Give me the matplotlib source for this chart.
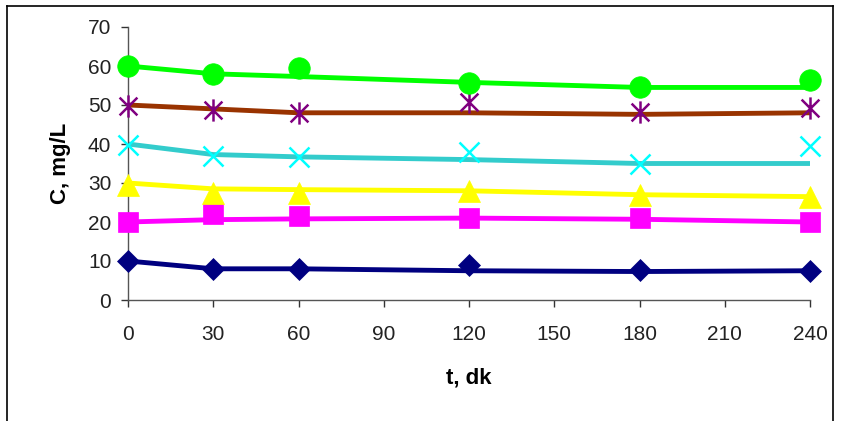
import matplotlib
matplotlib.use("Agg")
import matplotlib.pyplot as plt
from matplotlib.lines import Line2D
from matplotlib.path import Path

t = [0, 30, 60, 120, 180, 240]

# measured points
blue_pts = [10, 8, 8, 9, 7.6, 7.5]
mag_pts = [20, 22, 21.5, 21, 21, 20]
yel_pts = [29.5, 27.5, 27.5, 28, 27, 26.5]
cyan_pts = [39.7, 36.9, 36.7, 38, 34.9, 39.5]
purp_pts = [49.8, 48.7, 48, 50.8, 48.3, 49.2]
green_pts = [60, 58, 59.5, 55.7, 54.6, 56.4]

# fitted line values
blue_fit = [10, 8, 8, 7.5, 7.3, 7.5]
mag_fit = [20, 20.6, 20.8, 21, 20.7, 20]
yel_fit = [30, 28.5, 28.3, 28, 27, 26.5]
cyan_fit = [40, 37.3, 36.7, 36, 35, 35]
brown_fit = [50, 49, 48, 48, 47.6, 48]
green_fit = [60, 58, 57.3, 55.8, 54.5, 54.5]

xticks = [0, 30, 60, 90, 120, 150, 180, 210, 240]
yticks = [0, 10, 20, 30, 40, 50, 60, 70]

plt.rcParams['font.family'] = ['Liberation Sans', 'DejaVu Sans']

# Excel-style star marker: vertical bar plus an X
star = Path([(0, -1), (0, 1), (-0.8, -0.8), (0.8, 0.8), (-0.8, 0.8), (0.8, -0.8)],
            [Path.MOVETO, Path.LINETO, Path.MOVETO, Path.LINETO, Path.MOVETO, Path.LINETO])

fig = plt.figure(figsize=(8.42, 4.21), dpi=100)
W, H = 842, 421
ax = fig.add_axes([128 / W, 1 - 300 / H, (810 - 128) / W, (300 - 27) / H])

series = [
    (blue_pts, blue_fit, '#000080', '#000080', 'D', 11),
    (mag_pts, mag_fit, '#FF00FF', '#FF00FF', 's', 15),
    (yel_pts, yel_fit, '#FFFF00', '#FFFF00', '^', 15.5),
    (cyan_pts, cyan_fit, '#33CCCC', '#00FFFF', 'x', 15),
    (purp_pts, brown_fit, '#993300', '#800080', star, 16),
    (green_pts, green_fit, '#00FF00', '#00FF00', 'o', 15.5),
]
for pts, fit, lc, mc, mk, ms in series:
    ax.plot(t, fit, color=lc, lw=3.5, solid_capstyle='round', solid_joinstyle='round', zorder=2)
    if mk == 'x' or isinstance(mk, Path):
        ax.plot(t, pts, linestyle='none', marker=mk, ms=ms, mec=mc, mew=1.8, zorder=3, clip_on=False)
    else:
        ax.plot(t, pts, linestyle='none', marker=mk, ms=ms, mfc=mc, mec=mc, mew=0.5, zorder=3, clip_on=False)

ax.set_xlim(0, 240)
ax.set_ylim(0, 70)
ax.set_xticks(xticks)
ax.set_yticks(yticks)
ax.spines['top'].set_visible(False)
ax.spines['right'].set_visible(False)
for s in ('left', 'bottom'):
    ax.spines[s].set_color('#555555')
    ax.spines[s].set_linewidth(1.0)
ax.tick_params(axis='both', direction='out', length=5, width=1, color='#333333',
               labelsize=15, labelcolor='#222222')
ax.tick_params(axis='x', pad=13)
ax.tick_params(axis='y', pad=7)
ax.set_xlabel('t, dk', fontsize=16, fontweight='bold', labelpad=17)
ax.set_ylabel('C, mg/L', fontsize=16, fontweight='bold', labelpad=12)

# outer border
fig.add_artist(Line2D([7 / W, 7 / W], [0, 1 - 6 / H], transform=fig.transFigure, color='black', lw=1.2))
fig.add_artist(Line2D([7 / W, 833 / W], [1 - 6 / H, 1 - 6 / H], transform=fig.transFigure, color='black', lw=1.2))
fig.add_artist(Line2D([833 / W, 833 / W], [0, 1 - 6 / H], transform=fig.transFigure, color='black', lw=1.2))

fig.savefig('out.png', dpi=100)
